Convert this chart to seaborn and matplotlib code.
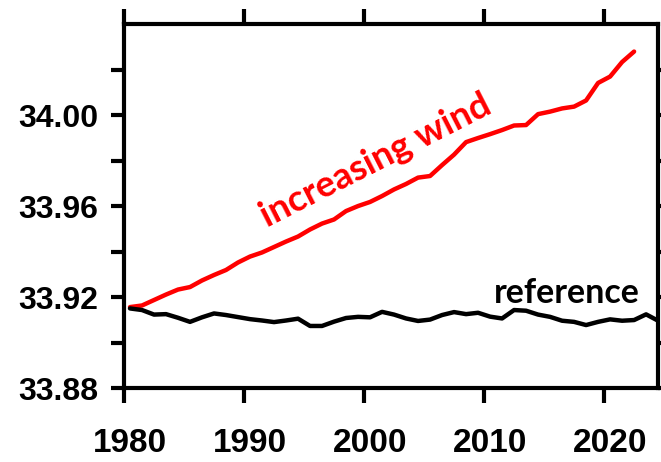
"""
Salinity time series: increasing wind run vs reference run.
"""

import numpy as np
import pandas as pd
import matplotlib
matplotlib.use("Agg")
import matplotlib.pyplot as plt
import matplotlib.transforms as mtransforms
import seaborn as sns

# annual means, plotted at mid-year
wind_years = np.arange(1980, 2023) + 0.5
wind_vals = [33.9156, 33.9163, 33.9187, 33.9211, 33.9233, 33.9244, 33.9273, 33.9297,
             33.9319, 33.9352, 33.9378, 33.9396, 33.9420, 33.9444, 33.9466, 33.9497,
             33.9523, 33.9541, 33.9578, 33.9600, 33.9618, 33.9644, 33.9673, 33.9697,
             33.9725, 33.9732, 33.9780, 33.9826, 33.9881, 33.9899, 33.9916, 33.9934,
             33.9954, 33.9956, 34.0004, 34.0015, 34.0029, 34.0037, 34.0064, 34.0141,
             34.0169, 34.0233, 34.0279]

ref_years = np.arange(1980, 2025) + 0.5
ref_vals = [33.9150, 33.9143, 33.9123, 33.9125, 33.9109, 33.9091, 33.9111, 33.9128,
            33.9121, 33.9112, 33.9103, 33.9097, 33.9090, 33.9097, 33.9105, 33.9073,
            33.9073, 33.9092, 33.9108, 33.9113, 33.9111, 33.9135, 33.9123, 33.9106,
            33.9095, 33.9101, 33.9121, 33.9134, 33.9125, 33.9131, 33.9114, 33.9106,
            33.9143, 33.9140, 33.9123, 33.9113, 33.9096, 33.9091, 33.9077, 33.9091,
            33.9102, 33.9096, 33.9099, 33.9124, 33.9096]

x_ticks = [1980, 1990, 2000, 2010, 2020]
y_ticks = [33.88, 33.90, 33.92, 33.94, 33.96, 33.98, 34.00, 34.02]
y_labeled = [33.88, 33.92, 33.96, 34.00]

df = pd.concat([
    pd.DataFrame({"year": wind_years, "value": wind_vals, "run": "increasing wind"}),
    pd.DataFrame({"year": ref_years, "value": ref_vals, "run": "reference"}),
])

sns.set_style("ticks")
plt.rcParams["font.family"] = ["Liberation Sans", "DejaVu Sans"]
for key in ["text.color", "xtick.color", "ytick.color", "axes.labelcolor"]:
    plt.rcParams[key] = "black"

fig = plt.figure(figsize=(6.61, 4.62), dpi=100)
ax = fig.add_axes([0.1876, 0.160, 0.808, 0.788])

sns.lineplot(data=df, x="year", y="value", hue="run",
             palette={"increasing wind": "#ff0000", "reference": "black"},
             linewidth=3.2, legend=False, ax=ax)

ax.set_xlim(1980.5, 2024.5)
ax.set_ylim(33.88, 34.04)
ax.set_xticks(x_ticks)
ax.set_yticks(y_ticks)
ax.set_yticklabels([f"{v:.2f}" if any(abs(v - l) < 1e-6 for l in y_labeled) else ""
                    for v in y_ticks])
ax.set_xlabel("")
ax.set_ylabel("")

for side in ["left", "right", "top", "bottom"]:
    ax.spines[side].set_visible(True)
    ax.spines[side].set_linewidth(3)
    ax.spines[side].set_color("black")

ax.tick_params(axis="y", which="major", direction="out", length=9.5, width=3,
               left=True, right=True, labelsize=23, pad=9, colors="black")
ax.tick_params(axis="x", which="major", direction="out", length=10.5, width=3,
               bottom=True, top=True, labelsize=24, pad=18, colors="black")
for lab in ax.get_xticklabels() + ax.get_yticklabels():
    lab.set_fontweight("bold")
# NCL-style labels sit a touch right of their ticks
shift = mtransforms.ScaledTranslation(6 / 100, 0, fig.dpi_scale_trans)
for lab in ax.get_xticklabels():
    lab.set_transform(lab.get_transform() + shift)

ax.text(1991.9, 33.9505, "increasing wind", color="#ff0000", fontsize=26.5,
        fontweight="bold", family=["Lato", "DejaVu Sans"], rotation=27,
        rotation_mode="anchor", ha="left", va="baseline")
ax.text(2010.85, 33.9174, "reference", color="black", fontsize=24.5,
        fontweight="bold", family=["Lato", "DejaVu Sans"], ha="left", va="baseline")

plt.savefig("out.png", dpi=100)
plt.close()
